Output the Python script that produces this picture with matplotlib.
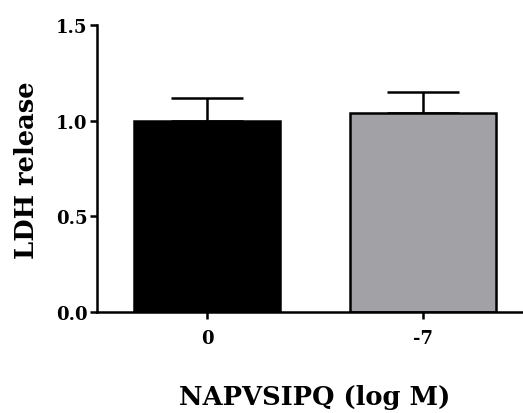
import matplotlib
matplotlib.use("Agg")
import matplotlib.pyplot as plt

categories = ["0", "-7"]
means = [1.00, 1.04]
sem = [0.12, 0.11]
colors = ["#000000", "#a2a1a6"]

plt.rcParams["font.family"] = ["DejaVu Serif"]
plt.rcParams["font.weight"] = "bold"

fig = plt.figure(figsize=(5.23, 4.14), dpi=100)
ax = fig.add_axes([0.1855, 0.244, 0.8145, 0.693])

x = list(range(len(categories)))
ax.bar(x, means, width=0.676, color=colors, edgecolor="black", linewidth=1.8, zorder=2)
ax.errorbar(x, means, yerr=[[0] * len(sem), sem], fmt="none", ecolor="black",
            elinewidth=1.8, capsize=26, capthick=1.8, zorder=1)

ax.set_xlim(-0.509, 1.463)
ax.set_ylim(0, 1.5)
ax.set_yticks([0.0, 0.5, 1.0, 1.5])
ax.set_yticklabels(["0.0", "0.5", "1.0", "1.5"])
ax.set_xticks(x)
ax.set_xticklabels(categories)

for side in ("top", "right"):
    ax.spines[side].set_visible(False)
for side in ("left", "bottom"):
    ax.spines[side].set_linewidth(1.8)
ax.tick_params(axis="both", length=5, width=1.8, labelsize=13)
ax.tick_params(axis="x", pad=7)
ax.tick_params(axis="y", pad=2)

ax.set_ylabel("LDH release", fontsize=18.5, fontweight="bold")
ax.yaxis.set_label_coords(-0.136, 0.498)
ax.set_xlabel("NAPVSIPQ (log M)", fontsize=18.5, fontweight="bold")
ax.xaxis.set_label_coords(0.512, -0.251)

fig.savefig("out.png", dpi=100)
